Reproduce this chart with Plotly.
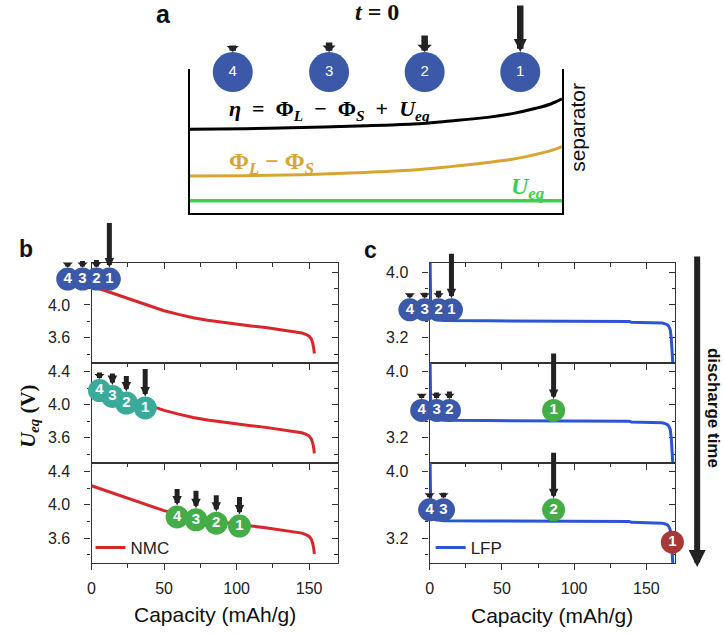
import plotly.graph_objects as go

FIG_W, FIG_H = 724, 634
SANS = "Liberation Sans, Arial, sans-serif"
SERIF = "Liberation Serif, Times New Roman, serif"

# ---------------- discharge curves (equilibrium potential vs capacity) ----------------
NMC_CAP = [0, 5, 10, 20, 30, 40, 50, 60, 70, 80, 90, 100, 110, 120, 130, 140,
           145, 148, 150, 151.5, 152.5, 153.2, 153.6]
NMC_U = [4.23, 4.20, 4.165, 4.105, 4.045, 3.985, 3.93, 3.885, 3.845, 3.815, 3.79,
         3.765, 3.745, 3.725, 3.70, 3.675, 3.66, 3.64, 3.62, 3.585, 3.535, 3.47, 3.41]

LFP_CAP = [0.2, 0.4, 0.7, 1.2, 2, 4, 10, 40, 80, 120, 138, 139.5, 150, 158, 161,
           163, 164.5, 165.5, 166.5, 167.2, 167.8, 168.3, 169]
LFP_U = [4.3, 3.9, 3.62, 3.48, 3.44, 3.42, 3.41, 3.407, 3.405, 3.403, 3.40, 3.39,
         3.388, 3.385, 3.38, 3.37, 3.36, 3.34, 3.30, 3.2, 3.05, 2.9, 2.7]

CAP_TICKS = [0, 50, 100, 150]

# ---------------- panel a: potentials across the electrode at t = 0 ----------------
A_POS = [0, 0.15, 0.3, 0.45, 0.6, 0.7, 0.8, 0.87, 0.93, 0.97, 1.0]
A_ETA = [0.581, 0.585, 0.593, 0.604, 0.618, 0.639, 0.664, 0.692, 0.727, 0.757, 0.792]
A_PHI = [0.257, 0.259, 0.266, 0.280, 0.299, 0.322, 0.350, 0.375, 0.407, 0.433, 0.461]
A_UEQ = [0.085, 0.085, 0.085, 0.085, 0.085, 0.085, 0.085, 0.085, 0.085, 0.085, 0.085]

PARTICLE_IDS = ["4", "3", "2", "1"]
A_PART_POS = [0.115, 0.374, 0.631, 0.888]
A_PART_LEVEL = [0.979, 0.979, 0.979, 0.979]
A_FLUX = [8, 11, 18, 48]          # reaction-rate arrows (px)

# ---------------- particle states during discharge ----------------
B1_CAP = [-16.4, -6.2, 3.4, 12.3]
B1_U = [4.315, 4.315, 4.315, 4.315]
B1_FLUX = [5, 8, 9, 46]
B2_CAP = [5.5, 14.4, 24.0, 37.0]
B2_U = [4.17, 4.10, 4.02, 3.96]
B2_FLUX = [8, 13, 17, 29]
B3_CAP = [59, 72, 86, 102]
B3_U = [3.855, 3.82, 3.78, 3.745]
B3_FLUX = [18, 19, 18, 19]

C1_CAP = [-13.7, -3.4, 6.2, 15.1]
C1_U = [3.54, 3.54, 3.54, 3.54]
C1_FLUX = [5, 7, 9, 46]
C2_CAP = [-5.5, 4.8, 13.7, 85.8]
C2_U = [3.53, 3.53, 3.53, 3.53]
C2_FLUX = [5, 8, 9, 47]
C3_CAP = [0.0, 9.6, 85.8, 168.0]
C3_U = [3.54, 3.54, 3.54, 3.15]
C3_FLUX = [5, 7, 47, 0]

BLUE, TEAL, GREEN, RED = "#3b59a8", "#3aab9b", "#45ad47", "#a83838"
B_COLORS = [[BLUE] * 4, [TEAL] * 4, [GREEN] * 4]
C_COLORS = [[BLUE] * 4, [BLUE, BLUE, BLUE, GREEN], [BLUE, BLUE, GREEN, RED]]

NMC_COLOR = "#d9262b"
LFP_COLOR = "#2b55d6"
AXIS_COLOR = "#333333"

# ---------------- layout geometry (px) ----------------
A_BOX = (187, 561, 69, 213)            # left, right, top, bottom
B_X = (88, 336)
C_X = (428, 675)
ROWS = [(263, 362.5), (362.5, 462.5), (462.5, 563)]
CAP_RANGE = [0, 170]
B_RANGE = [3.30, 4.51]
C_RANGE = [2.90, 4.11]
PART_EXT = 48                          # particle layer reaches left of the axis by this many px


def xdom(l, r):
    return [l / FIG_W, r / FIG_W]


def ydom(t, b):
    return [1 - b / FIG_H, 1 - t / FIG_H]


fig = go.Figure()
layout = dict(
    width=FIG_W, height=FIG_H, margin=dict(l=0, r=0, t=0, b=0),
    paper_bgcolor="white", plot_bgcolor="rgba(0,0,0,0)",
    font=dict(family=SANS, color="#222"),
)
annotations = []

# ---------------- panel a ----------------
layout["xaxis"] = dict(domain=xdom(A_BOX[0], A_BOX[1]), range=[0, 1], showline=True,
                       linecolor="black", linewidth=2, showgrid=False, zeroline=False,
                       showticklabels=False, ticks="", fixedrange=True, layer="below traces")
layout["yaxis"] = dict(domain=ydom(A_BOX[2], A_BOX[3]), range=[0, 1], showline=True,
                       mirror=True, linecolor="black", linewidth=2, showgrid=False,
                       zeroline=False, showticklabels=False, ticks="", anchor="x",
                       fixedrange=True, layer="below traces")

for vals, col, w in [(A_ETA, "black", 3), (A_PHI, "#d9a531", 3), (A_UEQ, "#3ccf52", 3.5)]:
    fig.add_trace(go.Scatter(x=A_POS, y=vals, mode="lines", line=dict(color=col, width=w, shape="spline"),
                             xaxis="x", yaxis="y", showlegend=False, hoverinfo="skip"))

fig.add_trace(go.Scatter(
    x=A_PART_POS, y=A_PART_LEVEL, mode="markers+text", text=PARTICLE_IDS,
    marker=dict(size=40, color=BLUE, line=dict(width=0)),
    textfont=dict(color="white", size=15, family=SANS), textposition="middle center",
    cliponaxis=False, xaxis="x", yaxis="y", showlegend=False, hoverinfo="skip"))


def arrow(xref, x, yref, y, shift, length, width, head_scale, long_len=20):
    # short arrows get a wide flat head, long ones a pointed head
    short = length < long_len
    return dict(xref=xref, x=x, yref=yref, y=y, yshift=shift, ax=0, ay=-length,
                axref="pixel", ayref="pixel", text="", showarrow=True,
                arrowhead=1 if short else 2, arrowsize=max(0.3, head_scale / width),
                arrowwidth=width, arrowcolor="#222", font=dict(size=1))


for pos, lvl, flux in zip(A_PART_POS, A_PART_LEVEL, A_FLUX):
    scale = 2.6 if flux >= 20 else min(2.4, max(2.0, flux * 0.2))
    annotations.append(arrow("x", pos, "y", lvl, 20, flux, 6.5, scale))

# ---------------- panels b and c ----------------
panels = [
    (B_X, B_RANGE, [(B1_CAP, B1_U, B1_FLUX), (B2_CAP, B2_U, B2_FLUX), (B3_CAP, B3_U, B3_FLUX)],
     B_COLORS, NMC_CAP, NMC_U, NMC_COLOR, "NMC", "legend", [4.4, 4.0, 3.6]),
    (C_X, C_RANGE, [(C1_CAP, C1_U, C1_FLUX), (C2_CAP, C2_U, C2_FLUX), (C3_CAP, C3_U, C3_FLUX)],
     C_COLORS, LFP_CAP, LFP_U, LFP_COLOR, "LFP", "legend2", [4.0, 3.6, 3.2]),
]

tickfont = dict(family=SANS, size=16, color="#222")
k = 2
for p_i, (px_x, urange, states, colors, cap, u, lcol, lname, leg, yt) in enumerate(panels):
    units_per_px = (CAP_RANGE[1] - CAP_RANGE[0]) / (px_x[1] - px_x[0])
    part_range = [CAP_RANGE[0] - PART_EXT * units_per_px, CAP_RANGE[1]]
    for r, (top, bottom) in enumerate(ROWS):
        xa, ya = f"x{k}", f"y{k}"
        xt, yr = f"x{k + 6}", f"y{k + 6}"
        xp, yp = f"x{k + 12}", f"y{k + 12}"
        last = r == len(ROWS) - 1
        if p_i == 0:
            ytext = ["" if r == 0 else "4.4", "4.0", "3.6"]
        else:
            ytext = ["4.0", "", "3.2"]
        common_x = dict(range=CAP_RANGE, showgrid=False, zeroline=False, fixedrange=True,
                        linecolor=AXIS_COLOR, linewidth=1.3, tickcolor=AXIS_COLOR,
                        tickwidth=1.3, ticklen=6, tickmode="array", tickvals=CAP_TICKS,
                        layer="below traces")
        common_y = dict(range=urange, showgrid=False, zeroline=False, fixedrange=True,
                        linecolor=AXIS_COLOR, linewidth=1.3, tickcolor=AXIS_COLOR,
                        tickwidth=1.3, ticklen=6, tickmode="array", tickvals=yt,
                        layer="below traces")
        layout[f"xaxis{k}"] = dict(
            common_x, domain=xdom(*px_x), anchor=ya, showline=True, ticks="outside",
            ticktext=[str(v) for v in CAP_TICKS], showticklabels=last, tickfont=tickfont,
            ticklabelstandoff=5,
            minor=dict(ticks="outside", ticklen=3.5, tickwidth=1.3, tickcolor=AXIS_COLOR,
                       dtick=25, tick0=0, showgrid=False))
        layout[f"xaxis{k + 6}"] = dict(
            common_x, overlaying=xa, anchor=ya, side="top", showline=True, ticks="inside",
            showticklabels=False,
            minor=dict(ticks="inside", ticklen=3.5, tickwidth=1.3, tickcolor=AXIS_COLOR,
                       dtick=25, tick0=0, showgrid=False))
        layout[f"yaxis{k}"] = dict(
            common_y, domain=ydom(top, bottom), anchor=xa, showline=True, ticks="outside",
            ticktext=ytext, tickfont=tickfont, ticklabelstandoff=11,
            minor=dict(ticks="outside", ticklen=3.5, tickwidth=1.3, tickcolor=AXIS_COLOR,
                       dtick=0.2, tick0=0, showgrid=False))
        layout[f"yaxis{k + 6}"] = dict(
            common_y, overlaying=ya, anchor=xa, side="right", showline=True, ticks="inside",
            showticklabels=False,
            minor=dict(ticks="inside", ticklen=3.5, tickwidth=1.3, tickcolor=AXIS_COLOR,
                       dtick=0.2, tick0=0, showgrid=False))
        # particle layer: same capacity/voltage scale, widened to the left of the frame
        layout[f"xaxis{k + 12}"] = dict(domain=xdom(px_x[0] - PART_EXT, px_x[1]), range=part_range,
                                        visible=False, fixedrange=True, anchor=yp)
        layout[f"yaxis{k + 12}"] = dict(domain=ydom(top, bottom), range=urange,
                                        visible=False, fixedrange=True, anchor=xp)

        # axis carriers for the top / right frame
        fig.add_trace(go.Scatter(x=[None], y=[None], xaxis=xt, yaxis=ya, showlegend=False, hoverinfo="skip"))
        fig.add_trace(go.Scatter(x=[None], y=[None], xaxis=xa, yaxis=yr, showlegend=False, hoverinfo="skip"))

        fig.add_trace(go.Scatter(
            x=cap, y=u, mode="lines", name=lname, line=dict(color=lcol, width=3),
            xaxis=xa, yaxis=ya, showlegend=last, legend=leg, hoverinfo="skip"))

        s_cap, s_u, s_flux = states[r]
        fig.add_trace(go.Scatter(
            x=s_cap, y=s_u, mode="markers+text", text=PARTICLE_IDS,
            marker=dict(size=23, color=colors[r], line=dict(width=0)),
            textfont=dict(color="white", size=15, family=SANS), textposition="middle center",
            texttemplate="<b>%{text}</b>",
            cliponaxis=False, xaxis=xp, yaxis=yp, showlegend=False, hoverinfo="skip"))

        for c_val, u_val, flux in zip(s_cap, s_u, s_flux):
            if flux <= 0:
                continue
            annotations.append(arrow(xp, c_val, yp, u_val, 11.5, flux, 5,
                                     1.7 if flux < 12 else 1.9, long_len=12))
        k += 1

# legends
for key, lx in [("legend", 87), ("legend2", 429)]:
    layout[key] = dict(x=lx / FIG_W, y=1 - 548 / FIG_H, xanchor="left", yanchor="middle",
                       bgcolor="rgba(0,0,0,0)", borderwidth=0,
                       font=dict(family=SANS, size=17, color="#222"))

# ---------------- text ----------------
def ptext(text, x, y, size, family=SANS, color="#111", angle=0, xanchor="center"):
    annotations.append(dict(xref="paper", yref="paper", x=x / FIG_W, y=1 - y / FIG_H,
                            text=text, showarrow=False, textangle=angle, xanchor=xanchor,
                            yanchor="middle", font=dict(family=family, size=size, color=color)))


SP = " \u2005"
ptext("<b>a</b>", 160, 14, 25)
ptext("<b>b</b>", 22, 249, 23)
ptext("<b>c</b>", 369, 250, 23)
ptext("<b><i>t</i> = 0</b>", 375, 12, 24, family=SERIF)
ptext(f"<b><i>η</i>{SP}={SP}Φ<sub><i>L</i></sub>{SP}−{SP}Φ<sub><i>S</i></sub>{SP}+{SP}"
      f"<i>U</i><sub><i>eq</i></sub></b>",
      224, 110, 22, family=SERIF, color="black", xanchor="left")
ptext("<b>Φ<sub><i>L</i></sub> − Φ<sub><i>S</i></sub></b>", 224, 163, 24, family=SERIF,
      color="#d9a531", xanchor="left")
ptext("<b><i>U</i><sub><i>eq</i></sub></b>", 508, 188, 24, family=SERIF, color="#3ccf52",
      xanchor="left")
ptext("separator", 577, 127, 21, angle=-90, color="#111")
ptext("<b><i>U</i><sub><i>eq</i></sub> (V)</b>", 25, 416, 21, family=SERIF, angle=-90)
ptext("Capacity (mAh/g)", 212, 614, 21)
ptext("Capacity (mAh/g)", 551, 615, 21)
ptext("<b>discharge time</b>", 714, 408, 17, angle=90)

# discharge-time arrow
annotations.append(dict(xref="paper", yref="paper", x=697 / FIG_W, y=1 - 567 / FIG_H,
                        ax=0, ay=-312, axref="pixel", ayref="pixel", text="", showarrow=True,
                        arrowhead=2, arrowsize=0.57, arrowwidth=6, arrowcolor="#222",
                        font=dict(size=1)))

layout["annotations"] = annotations
fig.update_layout(**layout)
fig.write_html("out.html")
